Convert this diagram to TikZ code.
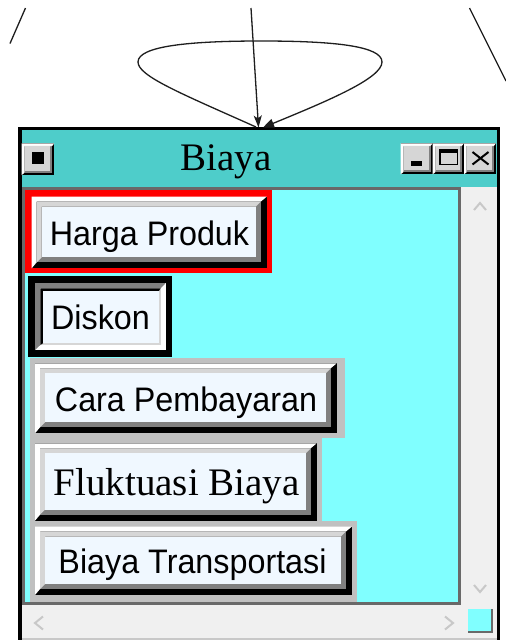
\documentclass[tikz,border=0pt]{standalone}
\usepackage{fontspec}
\setmainfont{Liberation Serif}
\newfontfamily\gothic[FakeStretch=0.95]{Liberation Sans}
\usetikzlibrary{arrows.meta}
\definecolor{titleteal}{RGB}{78,205,202}
\definecolor{cyanbg}{RGB}{128,255,255}
\definecolor{btnface}{RGB}{240,248,255}
\definecolor{lgray}{RGB}{214,214,214}
\definecolor{dgray}{RGB}{128,128,128}
\definecolor{framegray}{RGB}{192,192,192}
\definecolor{sbgray}{RGB}{240,240,240}
\definecolor{chev}{RGB}{200,200,200}
\definecolor{borderdk}{RGB}{105,105,105}
\definecolor{linecol}{RGB}{30,30,30}
% bevel ring: L T R B tlcolor brcolor tlwidth brwidth
\newcommand{\bvring}[8]{%
  \fill[#6] (#1,#2) rectangle (#3,#4);
  \fill[#5] (#1,#2) -- (#3,#2) -- (#3-#8,#2+#7) -- (#1+#7,#2+#7) -- (#1+#7,#4-#8) -- (#1,#4) -- cycle;
}
\newcommand{\raisedbtn}[4]{%
  \bvring{#1}{#2}{#3}{#4}{white}{black}{5}{6}
  \bvring{#1+5}{#2+5}{#3-6}{#4-6}{lgray}{dgray}{5}{5}
  \fill[btnface] (#1+10,#2+10) rectangle (#3-11,#4-11);
}
\newcommand{\titlebtn}[4]{%
  \bvring{#1}{#2}{#3}{#4}{white}{black}{2.5}{2}
  \bvring{#1+2.5}{#2+2.5}{#3-2}{#4-2}{lgray}{dgray}{0.5}{2}
  \fill[lgray] (#1+3,#2+3) rectangle (#3-4,#4-4);
}
\tikzset{
  conn/.style={draw=linecol, line width=1.3pt},
  gtext/.style={font=\gothic\fontsize{34}{40}\selectfont, anchor=base, inner sep=0pt},
  stext/.style={font=\fontsize{39}{44}\selectfont, anchor=base, inner sep=0pt}
}
\begin{document}
\begin{tikzpicture}[x=1pt,y=-1pt]
\useasboundingbox (0,0) rectangle (506,640);
\fill[white] (0,0) rectangle (506,640);

% ---- window frame ----
\fill[black] (17.7,126.7) rectangle (500,640);
\fill[titleteal] (21.7,130) rectangle (496.7,187);
\fill[borderdk] (21.7,187) rectangle (461,605);
\fill[cyanbg] (25,190) rectangle (458,602);
\fill[sbgray] (461,187) rectangle (496.7,605);
\fill[sbgray] (21.7,605) rectangle (496.7,640);
\fill[chev] (21.7,638.3) rectangle (496.7,640);

% scrollbar chevrons
\draw[chev, line width=2pt] (474,210) -- (480,203) -- (486,210);
\draw[chev, line width=2pt] (474,585) -- (480,592) -- (486,585);
\draw[chev, line width=2pt] (43,616.5) -- (35,623) -- (43,629.5);
\draw[chev, line width=2pt] (445,616.5) -- (453,623) -- (445,629.5);
% corner square
\fill[borderdk] (468.3,609.3) rectangle (492.7,633.3);
\fill[cyanbg] (468.3,609.3) rectangle (490.7,631.3);

% ---- title bar ----
\titlebtn{21.7}{143.3}{54.3}{175}
\fill[black] (32.3,152.3) rectangle (44.3,164.3);
\titlebtn{400.7}{143.3}{432.7}{174.3}
\titlebtn{432.7}{143.3}{464}{174.3}
\titlebtn{464}{143.3}{496}{174.3}
\fill[black] (410.7,161) rectangle (421.7,165.7);
\draw[black, line width=1.5pt] (440,150) rectangle (457.5,164.5);
\fill[black] (439.3,149.3) rectangle (458.3,152.5);
\draw[black, line width=2pt] (472.5,152) -- (488.5,164.5) (472.5,164.5) -- (488.5,152);
\node[stext] (title) at (226,170.7) {Biaya};

% ---- Harga Produk (red frame) ----
\fill[red] (25,190) rectangle (271.7,273.3);
\raisedbtn{31.7}{196.7}{266.7}{268.3}
\node[gtext] (harga) at (149.5,245) {Harga Produk};

% ---- Diskon (pressed, black frame) ----
\fill[black] (28.3,276) rectangle (171.7,357);
\bvring{35}{283}{165.7}{350}{dgray}{white}{5.3}{5}
\bvring{40.3}{288.3}{160.7}{345}{black}{lgray}{3}{2}
\fill[btnface] (43.3,291.3) rectangle (158.7,343);
\node[gtext] (diskon) at (100.5,329.3) {Diskon};

% ---- Cara Pembayaran ----
\fill[framegray] (30,358.3) rectangle (345,438);
\raisedbtn{35}{363.3}{336.7}{433.3}
\node[gtext] (cara) at (186,411.7) {Cara Pembayaran};

% ---- Fluktuasi Biaya ----
\fill[framegray] (30,438) rectangle (321.7,525);
\raisedbtn{35}{443.3}{316.7}{520.7}
\node[stext] (fluktuasi) at (176.7,495) {Fluktuasi Biaya};

% ---- Biaya Transportasi ----
\fill[framegray] (30,521) rectangle (356.7,602);
\raisedbtn{35}{526.7}{351.7}{595}
\node[gtext] (transport) at (192.5,573.3) {Biaya Transportasi};

% ---- connectors above the window ----
\coordinate (tlA) at (25.5,8);
\coordinate (tlB) at (10,43.5);
\coordinate (trA) at (469.5,8);
\coordinate (trB) at (506,81);
\coordinate (vsrc) at (251,8);
\coordinate (wtop) at (258.5,127.5);
\coordinate (loopA) at (256,127);
\coordinate (loopB) at (263,127.5);
\draw[conn] (tlA) -- (tlB);
\draw[conn] (trA) -- (trB);
\draw[conn, -{Stealth[length=12pt,width=8pt,inset=3pt]}] (vsrc) -- (wtop);
\draw[conn, -{Triangle[length=11pt,width=9pt]}] (loopA)
  .. controls (180,93) and (138,76) .. (138,62)
  .. controls (138,46) and (190,41) .. (261,41)
  .. controls (334,41) and (382,46) .. (382,62)
  .. controls (382,78) and (330,100) .. (loopB);
\end{tikzpicture}
\end{document}
